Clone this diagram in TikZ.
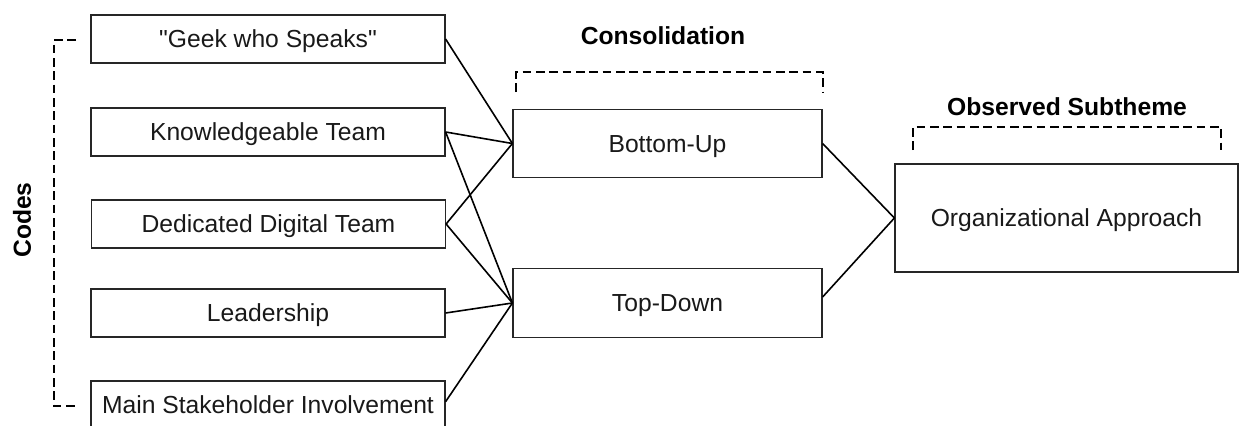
\documentclass[tikz,border=0pt]{standalone}
\usepackage{fontspec}
\setmainfont{Liberation Sans}
\newfontfamily\plainquotes{Liberation Sans}
\begin{document}
\begin{tikzpicture}[x=0.75pt,y=-0.75pt,
  box/.style={draw=black!85,line width=0.9pt,inner sep=0pt,font=\fontsize{18.5}{22}\selectfont,text=black!90,text height=13.2pt,text depth=0pt},
  codebox/.style={box,minimum width=354*0.75pt,minimum height=48*0.75pt},
  consbox/.style={box,minimum width=309*0.75pt,minimum height=68.5*0.75pt},
  link/.style={line width=1.2pt,black},
  bracket/.style={line width=1.1pt,black,dash pattern=on 6.5pt off 3.5pt},
  title/.style={font=\bfseries\fontsize{18.5}{22}\selectfont,inner sep=0pt,text height=13.2pt,text depth=0pt}]
\useasboundingbox (0,0) rectangle (1239,425);
\clip (0,0) rectangle (1239,425);
\node[codebox] (geek) at (268,39) {{\plainquotes "Geek who Speaks"}};
\node[codebox] (kt) at (268,132) {Knowledgeable Team};
\node[codebox] (ddt) at (268.5,224) {Dedicated Digital Team};
\node[codebox] (lead) at (268,313) {Leadership};
\node[codebox] (main) at (268,405) {Main Stakeholder Involvement};
\node[consbox] (bu) at (667.5,143.5) {Bottom-Up};
\node[consbox] (td) at (667.5,303) {Top-Down};
\node[box,minimum width=343*0.75pt,minimum height=108*0.75pt] (oa) at (1066.5,218) {Organizational Approach};
\node[title,rotate=90] (codes) at (22,220) {Codes};
\node[title] (cons) at (663,36) {Consolidation};
\node[title] (obs) at (1067,107) {Observed Subtheme};
\draw[link] (geek.east) -- (bu.west);
\draw[link] (kt.east) -- (bu.west);
\draw[link] (kt.east) -- (td.west);
\draw[link] (ddt.east) -- (bu.west);
\draw[link] (ddt.east) -- (td.west);
\draw[link] (lead.east) -- (td.west);
\draw[link] ([yshift=2.5pt]main.east) -- (td.west);
\draw[link] (bu.east) -- (oa.west);
\draw[link] ([yshift=4.5pt]td.east) -- (oa.west);
\draw[bracket] (76,40) -- (54,40) -- (54,406) -- (76,406);
\draw[bracket] (516,92) -- (516,72) -- (823,72) -- (823,92);
\draw[bracket] (913,150) -- (913,127) -- (1221,127) -- (1221,150);
\end{tikzpicture}
\end{document}
